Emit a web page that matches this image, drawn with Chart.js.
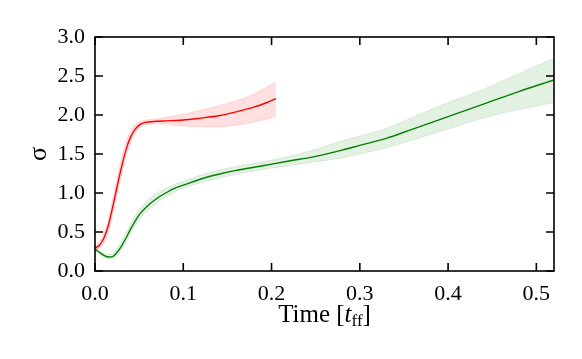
<!DOCTYPE html>
<html>
<head>
<meta charset="utf-8">
<script src="https://cdn.jsdelivr.net/npm/chart.js@4/dist/chart.umd.min.js"></script>
<style>
  html, body { margin: 0; padding: 0; background: #fff; }
  #wrap { width: 582px; height: 359px; }
</style>
</head>
<body>
<div id="wrap"><canvas id="grafico"></canvas></div>
<script>
// red run: time, mean, lower and upper edge of the band
const tempoVermelho = [0.000, 0.005, 0.010, 0.015, 0.020, 0.025, 0.030, 0.035, 0.040, 0.045, 0.050, 0.055, 0.060, 0.070, 0.080, 0.100, 0.120, 0.140, 0.160, 0.180, 0.195, 0.205];
const mediaVermelho = [0.29, 0.33, 0.42, 0.58, 0.82, 1.08, 1.33, 1.55, 1.71, 1.81, 1.87, 1.90, 1.91, 1.92, 1.925, 1.935, 1.96, 1.99, 2.04, 2.10, 2.16, 2.21];
const baixoVermelho = [0.27, 0.29, 0.36, 0.50, 0.72, 0.98, 1.23, 1.46, 1.63, 1.75, 1.83, 1.87, 1.88, 1.89, 1.88, 1.86, 1.85, 1.85, 1.87, 1.91, 1.95, 1.98];
const altoVermelho = [0.31, 0.37, 0.48, 0.66, 0.92, 1.18, 1.43, 1.64, 1.79, 1.87, 1.91, 1.93, 1.94, 1.95, 1.97, 2.01, 2.06, 2.12, 2.18, 2.27, 2.36, 2.42];

// green run
const tempoVerde = [0.000, 0.005, 0.010, 0.015, 0.020, 0.025, 0.030, 0.035, 0.040, 0.045, 0.050, 0.060, 0.070, 0.080, 0.090, 0.100, 0.120, 0.140, 0.160, 0.180, 0.200, 0.220, 0.250, 0.280, 0.300, 0.330, 0.360, 0.400, 0.440, 0.480, 0.520];
const mediaVerde = [0.28, 0.24, 0.20, 0.18, 0.185, 0.24, 0.32, 0.42, 0.53, 0.63, 0.72, 0.84, 0.93, 1.00, 1.06, 1.10, 1.18, 1.24, 1.29, 1.33, 1.37, 1.41, 1.47, 1.55, 1.61, 1.70, 1.82, 1.98, 2.14, 2.30, 2.45];
const baixoVerde = [0.26, 0.22, 0.18, 0.16, 0.16, 0.20, 0.27, 0.36, 0.47, 0.57, 0.66, 0.78, 0.87, 0.95, 1.01, 1.06, 1.13, 1.19, 1.24, 1.28, 1.32, 1.35, 1.40, 1.45, 1.50, 1.58, 1.68, 1.82, 1.96, 2.07, 2.16];
const altoVerde = [0.30, 0.26, 0.23, 0.21, 0.22, 0.29, 0.38, 0.48, 0.59, 0.70, 0.79, 0.91, 1.00, 1.06, 1.11, 1.15, 1.23, 1.29, 1.34, 1.38, 1.42, 1.47, 1.56, 1.67, 1.73, 1.83, 1.97, 2.16, 2.33, 2.53, 2.73];

// axis ticks
const ticksX = [0.0, 0.1, 0.2, 0.3, 0.4, 0.5];
const ticksY = [0.0, 0.5, 1.0, 1.5, 2.0, 2.5, 3.0];

const fonte = "'Liberation Serif', 'Times New Roman', serif";

function pontos(tempos, valores) {
  return tempos.map((t, i) => ({ x: t, y: valores[i] }));
}

function faixa(tempos, valores, cor, preencher) {
  return {
    data: pontos(tempos, valores),
    borderColor: cor,
    borderWidth: 1,
    backgroundColor: preencher ? cor : 'transparent',
    fill: preencher ? '+1' : false,
    pointRadius: 0,
    cubicInterpolationMode: 'monotone'
  };
}

function linha(tempos, valores, cor) {
  return {
    data: pontos(tempos, valores),
    borderColor: cor,
    borderWidth: 1.4,
    fill: false,
    pointRadius: 0,
    cubicInterpolationMode: 'monotone'
  };
}

// frame, inward ticks on all four sides and the x title with subscript
const molduraPlugin = {
  id: 'moldura',
  afterDraw(chart) {
    const { ctx, chartArea: a, scales } = chart;
    const tam = 8;
    ctx.save();
    ctx.strokeStyle = '#000';
    ctx.lineWidth = 1.6;
    ctx.strokeRect(a.left, a.top, a.right - a.left, a.bottom - a.top);
    ctx.beginPath();
    ticksX.forEach(v => {
      const px = scales.x.getPixelForValue(v);
      ctx.moveTo(px, a.bottom); ctx.lineTo(px, a.bottom - tam);
      ctx.moveTo(px, a.top); ctx.lineTo(px, a.top + tam);
    });
    ticksY.forEach(v => {
      const py = scales.y.getPixelForValue(v);
      ctx.moveTo(a.left, py); ctx.lineTo(a.left + tam, py);
      ctx.moveTo(a.right, py); ctx.lineTo(a.right - tam, py);
    });
    ctx.stroke();

    // "Time [t_ff]"
    ctx.fillStyle = '#000';
    ctx.textBaseline = 'alphabetic';
    const partes = [
      { txt: 'Time [', f: '25px ' + fonte, dy: 0 },
      { txt: 't', f: 'italic 25px ' + fonte, dy: 0 },
      { txt: 'ff', f: '17px ' + fonte, dy: 4 },
      { txt: ']', f: '25px ' + fonte, dy: 0 }
    ];
    let largura = 0;
    partes.forEach(p => { ctx.font = p.f; largura += ctx.measureText(p.txt).width; });
    let x = (a.left + a.right) / 2 - largura / 2;
    const base = 322;
    partes.forEach(p => {
      ctx.font = p.f;
      ctx.fillText(p.txt, x, base + p.dy);
      x += ctx.measureText(p.txt).width;
    });
    ctx.restore();
  }
};

const ctx = document.getElementById('grafico').getContext('2d');

new Chart(ctx, {
  type: 'line',
  data: {
    datasets: [
      faixa(tempoVermelho, altoVermelho, 'rgba(255, 0, 0, 0.12)', true),
      faixa(tempoVermelho, baixoVermelho, 'rgba(255, 0, 0, 0.12)', false),
      linha(tempoVermelho, mediaVermelho, '#ff0000'),
      faixa(tempoVerde, altoVerde, 'rgba(0, 128, 0, 0.11)', true),
      faixa(tempoVerde, baixoVerde, 'rgba(0, 128, 0, 0.11)', false),
      linha(tempoVerde, mediaVerde, '#008000')
    ]
  },
  options: {
    responsive: true,
    maintainAspectRatio: false,
    animation: false,
    layout: { padding: { top: 37, right: 28, left: 0, bottom: 0 } },
    plugins: {
      legend: { display: false },
      tooltip: { enabled: false }
    },
    scales: {
      x: {
        type: 'linear',
        min: 0,
        max: 0.52,
        grid: { display: false, drawTicks: false },
        border: { display: false },
        afterFit: escala => { escala.height = 88; },
        afterBuildTicks: escala => { escala.ticks = ticksX.map(v => ({ value: v })); },
        ticks: {
          padding: 10,
          color: '#000',
          font: { family: fonte, size: 22 },
          callback: v => v.toFixed(1)
        }
      },
      y: {
        min: 0,
        max: 3,
        grid: { display: false, drawTicks: false },
        border: { display: false },
        afterFit: escala => { escala.width = 95; },
        afterBuildTicks: escala => { escala.ticks = ticksY.map(v => ({ value: v })); },
        title: {
          display: true,
          text: 'σ',
          color: '#000',
          font: { family: fonte, size: 26 },
          padding: { top: 24 }
        },
        ticks: {
          padding: 10,
          color: '#000',
          font: { family: fonte, size: 22 },
          callback: v => v.toFixed(1)
        }
      }
    }
  },
  plugins: [molduraPlugin]
});
</script>
</body>
</html>
